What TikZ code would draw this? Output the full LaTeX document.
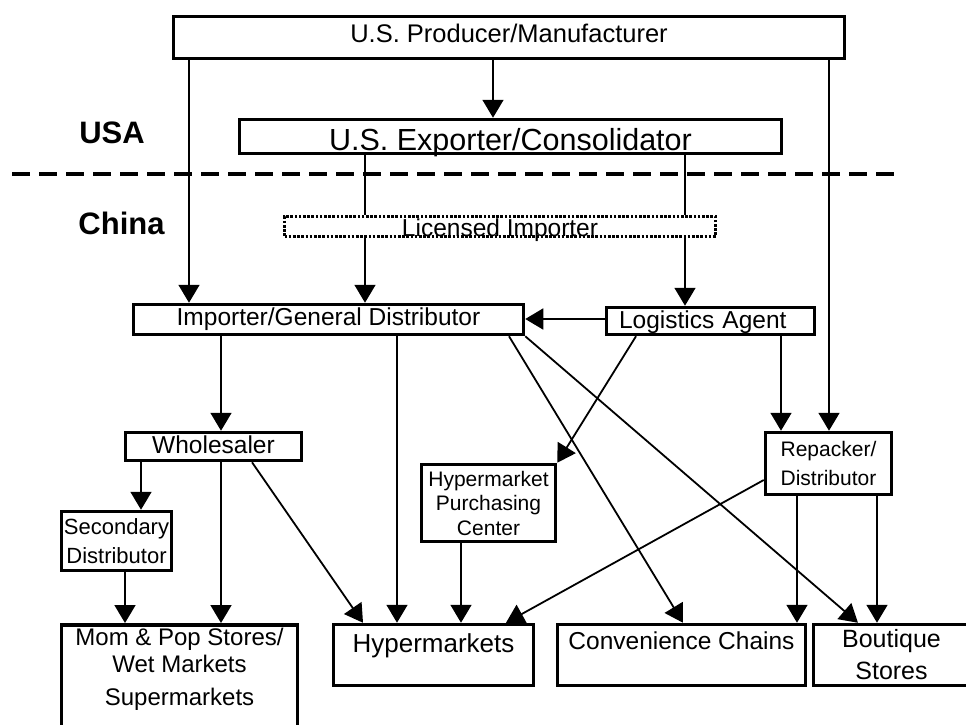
\documentclass[tikz,border=0pt]{standalone}
\usepackage{fontspec}
\setmainfont{Liberation Sans}
\usetikzlibrary{arrows.meta}
\usetikzlibrary{positioning}
\tikzset{
  box/.style = {draw, line width=3.5pt, inner sep=0pt, align=center,
    font=\fontsize{24.5}{30}\selectfont},
  dotbox/.style = {box, dash pattern=on 2.6pt off 1.6pt},% licensed importer
  smallbox/.style = {box, font=\fontsize{21}{29}\selectfont},
  land/.style = {font=\fontsize{31}{36}\selectfont\bfseries},% USA / China
  link/.style = {line width=1.8pt},
  border/.style = {-, line width=4pt, dash pattern=on 18pt off 9pt},
}

\begin{document}
\begin{tikzpicture}[->, >={Triangle[width=21pt,length=18pt]}, x=1pt, y=-1pt]
\useasboundingbox (0,0) rectangle (966,725);
\node [box, minimum width=671pt, text height=26.5pt, text depth=15.5pt, anchor=base,
  font=\fontsize{25.5}{30}\selectfont] (prod) at (509,43) {U.S. Producer/Manufacturer};
\node [box, minimum width=542pt, text height=30.5pt, text depth=3.5pt, anchor=base,
  font=\fontsize{30.5}{36}\selectfont] (exp) at (510.5,150) {U.S. Exporter/Consolidator};
\node [land] (usa) at (112,133) {USA};
\draw [border] (12,174) -- (899,174);
\node [land] (china) at (121.5,223) {China};
\node [dotbox, minimum width=431pt, text height=19.5pt, text depth=0.5pt, anchor=base] (li) at (500,236) {Licensed Importer};
\node [box, minimum width=390pt, text height=20.5pt, text depth=9.5pt, anchor=base] (igd) at (328.5,325) {Importer/General Distributor};
\node [box, minimum width=208pt, text width=183pt, inner xsep=12.5pt, align=left,
  text height=20.5pt, text depth=6.5pt, anchor=base] (la) at (710.5,328) {Logistics Agent};
\node [box, minimum width=176pt, text height=20.5pt, text depth=7.5pt, anchor=base] (whs) at (213.5,453) {Wholesaler};
\node [smallbox, minimum width=126pt, minimum height=62pt] (rep) at (828.5,463.5) {Repacker/\\Distributor};
\node [smallbox, minimum width=110pt, minimum height=59pt,
  font=\fontsize{22}{29}\selectfont] (sd) at (116.5,541) {Secondary\\Distributor};
\node [smallbox, minimum width=134pt, minimum height=77pt,
  font=\fontsize{21}{24.5}\selectfont] (hpc) at (488.5,503) {Hypermarket\\Purchasing\\Center};
% bottom row
\node [box, minimum width=236pt, inner ysep=3.8pt, anchor=north,
  font=\fontsize{24}{27}\selectfont] (mps) at (179.5,623) {Mom \& Pop Stores/\\Wet Markets\\[6pt]Supermarkets\\[60pt]\strut};
\node [box, minimum width=200pt, text height=27.5pt, text depth=33.5pt, anchor=base,
  font=\fontsize{26}{30}\selectfont] (hyp) at (433.5,652) {Hypermarkets};
\node [box, minimum width=248pt, text height=24.5pt, text depth=36.5pt, anchor=base] (cc) at (681.5,649) {Convenience Chains};
\node [box, minimum width=156pt, minimum height=61pt,
  font=\fontsize{25}{32}\selectfont] (bou) at (891.5,655) {Boutique\\Stores};

\draw [link] (prod.south -| 493,0) -- (exp.north -| 493,0);
\draw [link] (prod.south -| 189,0) -- (igd.north -| 189,0);
\draw [link] (prod.south -| 829,0) -- (rep.north -| 829,0);
\draw [link,-] (exp.south -| 365,0) -- (li.north -| 365,0);
\draw [link,-] (exp.south -| 685,0) -- (li.north -| 685,0);
\draw [link] (li.south -| 365,0) -- (igd.north -| 365,0);
\draw [link] (li.south -| 685,0) -- (la.north -| 685,0);
\draw [link] (la.west |- 0,319) -- (igd.east |- 0,319);
\draw [link] (igd.south -| 221,0) -- (whs.north -| 221,0);
\draw [link] (igd.south -| 397,0) -- (hyp.north -| 397,0);
\draw [link] (igd.south -| 509,0) -- (cc.north -| 683,0);
\draw [link] (igd.south east) -- (bou.north -| 858,0);
\draw [link] (la.south -| 636,0) -- (hpc.north east);
\draw [link] (la.south -| 781,0) -- (rep.north -| 781,0);
\draw [link] (whs.south -| 141,0) -- (sd.north -| 141,0);
\draw [link] (whs.south -| 221,0) -- (mps.north -| 221,0);
\draw [link] (whs.south -| 252,0) -- (hyp.north -| 363,0);
\draw [link] (sd.south -| 125,0) -- (mps.north -| 125,0);
\draw [link] (hpc.south -| 461,0) -- (hyp.north -| 461,0);
\draw [link] (rep.west |- 0,480) -- (hyp.north -| 506,0);
\draw [link] (rep.south -| 797,0) -- (cc.north -| 797,0);
\draw [link] (rep.south -| 877,0) -- (bou.north -| 877,0);
\end{tikzpicture}
\end{document}
